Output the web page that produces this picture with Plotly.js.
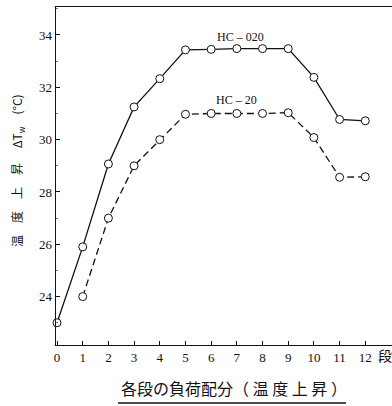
<!DOCTYPE html>
<html>
<head>
<meta charset="utf-8">
<script src="https://cdn.plot.ly/plotly-3.0.1.min.js"></script>
<style>
html,body{margin:0;padding:0;background:#fff;}
#chart{width:392px;height:406px;}
</style>
</head>
<body>
<div id="chart"></div>
<script>
// Data
const stages = [0,1,2,3,4,5,6,7,8,9,10,11,12];
const hc020 = [23.0,25.9,29.07,31.25,32.33,33.43,33.45,33.48,33.48,33.48,32.38,30.77,30.72];
const hc20Stages = [1,2,3,4,5,6,7,8,9,10,11,12];
const hc20 = [24.0,27.0,29.0,30.0,30.97,31.0,31.0,31.0,31.03,30.08,28.56,28.58];
const xTickVals = [0,1,2,3,4,5,6,7,8,9,10,11,12];
const yTickVals = [24,26,28,30,32,34];

const serif = '"Liberation Serif", "DejaVu Serif", serif';
const cjk = '"Noto Sans CJK JP", "Liberation Serif", serif';

const markerStyle = {symbol:'circle', size:8, color:'#fff', line:{color:'#111', width:1}};

const traces = [
  {x: stages, y: hc020, mode:'lines+markers', line:{color:'#111', width:1.3}, marker: markerStyle, cliponaxis:false, showlegend:false},
  {x: hc20Stages, y: hc20, mode:'lines+markers', line:{color:'#111', width:1.3, dash:'7px,4px'}, marker: markerStyle, cliponaxis:false, showlegend:false}
];

const layout = {
  width:392, height:406,
  margin:{l:56, r:0, t:7, b:61},
  paper_bgcolor:'#fff', plot_bgcolor:'#fff',
  font:{family: serif, color:'#111', size:13},
  xaxis:{
    range:[-0.04, 13.04], tickvals: xTickVals, ticktext: xTickVals.map(String),
    showgrid:false, zeroline:false, showline:true, linecolor:'#111', linewidth:1.3,
    mirror:true, ticks:'inside', ticklen:4, tickcolor:'#111',
    tickfont:{family: serif, size:13}
  },
  yaxis:{
    range:[22.15, 35.07], tickvals: yTickVals, ticktext: yTickVals.map(String),
    showgrid:false, zeroline:false, showline:true, linecolor:'#111', linewidth:1.3,
    ticks:'inside', ticklen:4, tickcolor:'#111',
    minor:{tickvals:[23,25,27,29,31,33,35], ticks:'inside', ticklen:2, tickcolor:'#777'},
    tickfont:{family: serif, size:13}
  },
  annotations:[
    {x:7.15, y:33.93, xref:'x', yref:'y', text:'HC – 020', showarrow:false, font:{family: serif, size:12}},
    {x:7.0, y:31.52, xref:'x', yref:'y', text:'HC – 20', showarrow:false, font:{family: serif, size:12}},
    {x:(17-56)/336, y:(345-171)/338, xref:'paper', yref:'paper', textangle:-90,
     text:'温　度　上　昇　 ΔT<sub>w</sub>　(°C)', showarrow:false, xanchor:'center', yanchor:'middle',
     font:{family: cjk, size:12}},
    {x:(234-56)/336, y:(345-388)/338, xref:'paper', yref:'paper',
     text:'各段の負荷配分（ 温 度 上 昇 ）', showarrow:false, xanchor:'center', yanchor:'middle',
     font:{family: cjk, size:16}},
    {x:(385-56)/336, y:(345-355)/338, xref:'paper', yref:'paper',
     text:'段', showarrow:false, xanchor:'center', yanchor:'middle',
     font:{family: cjk, size:14}}
  ],
  shapes:[
    {type:'line', xref:'paper', yref:'paper', x0:(118-56)/336, x1:(346-56)/336, y0:(345-403)/338, y1:(345-403)/338, line:{color:'#111', width:1.5}}
  ]
};

Plotly.newPlot('chart', traces, layout, {displayModeBar:false, staticPlot:true});
</script>
</body>
</html>
